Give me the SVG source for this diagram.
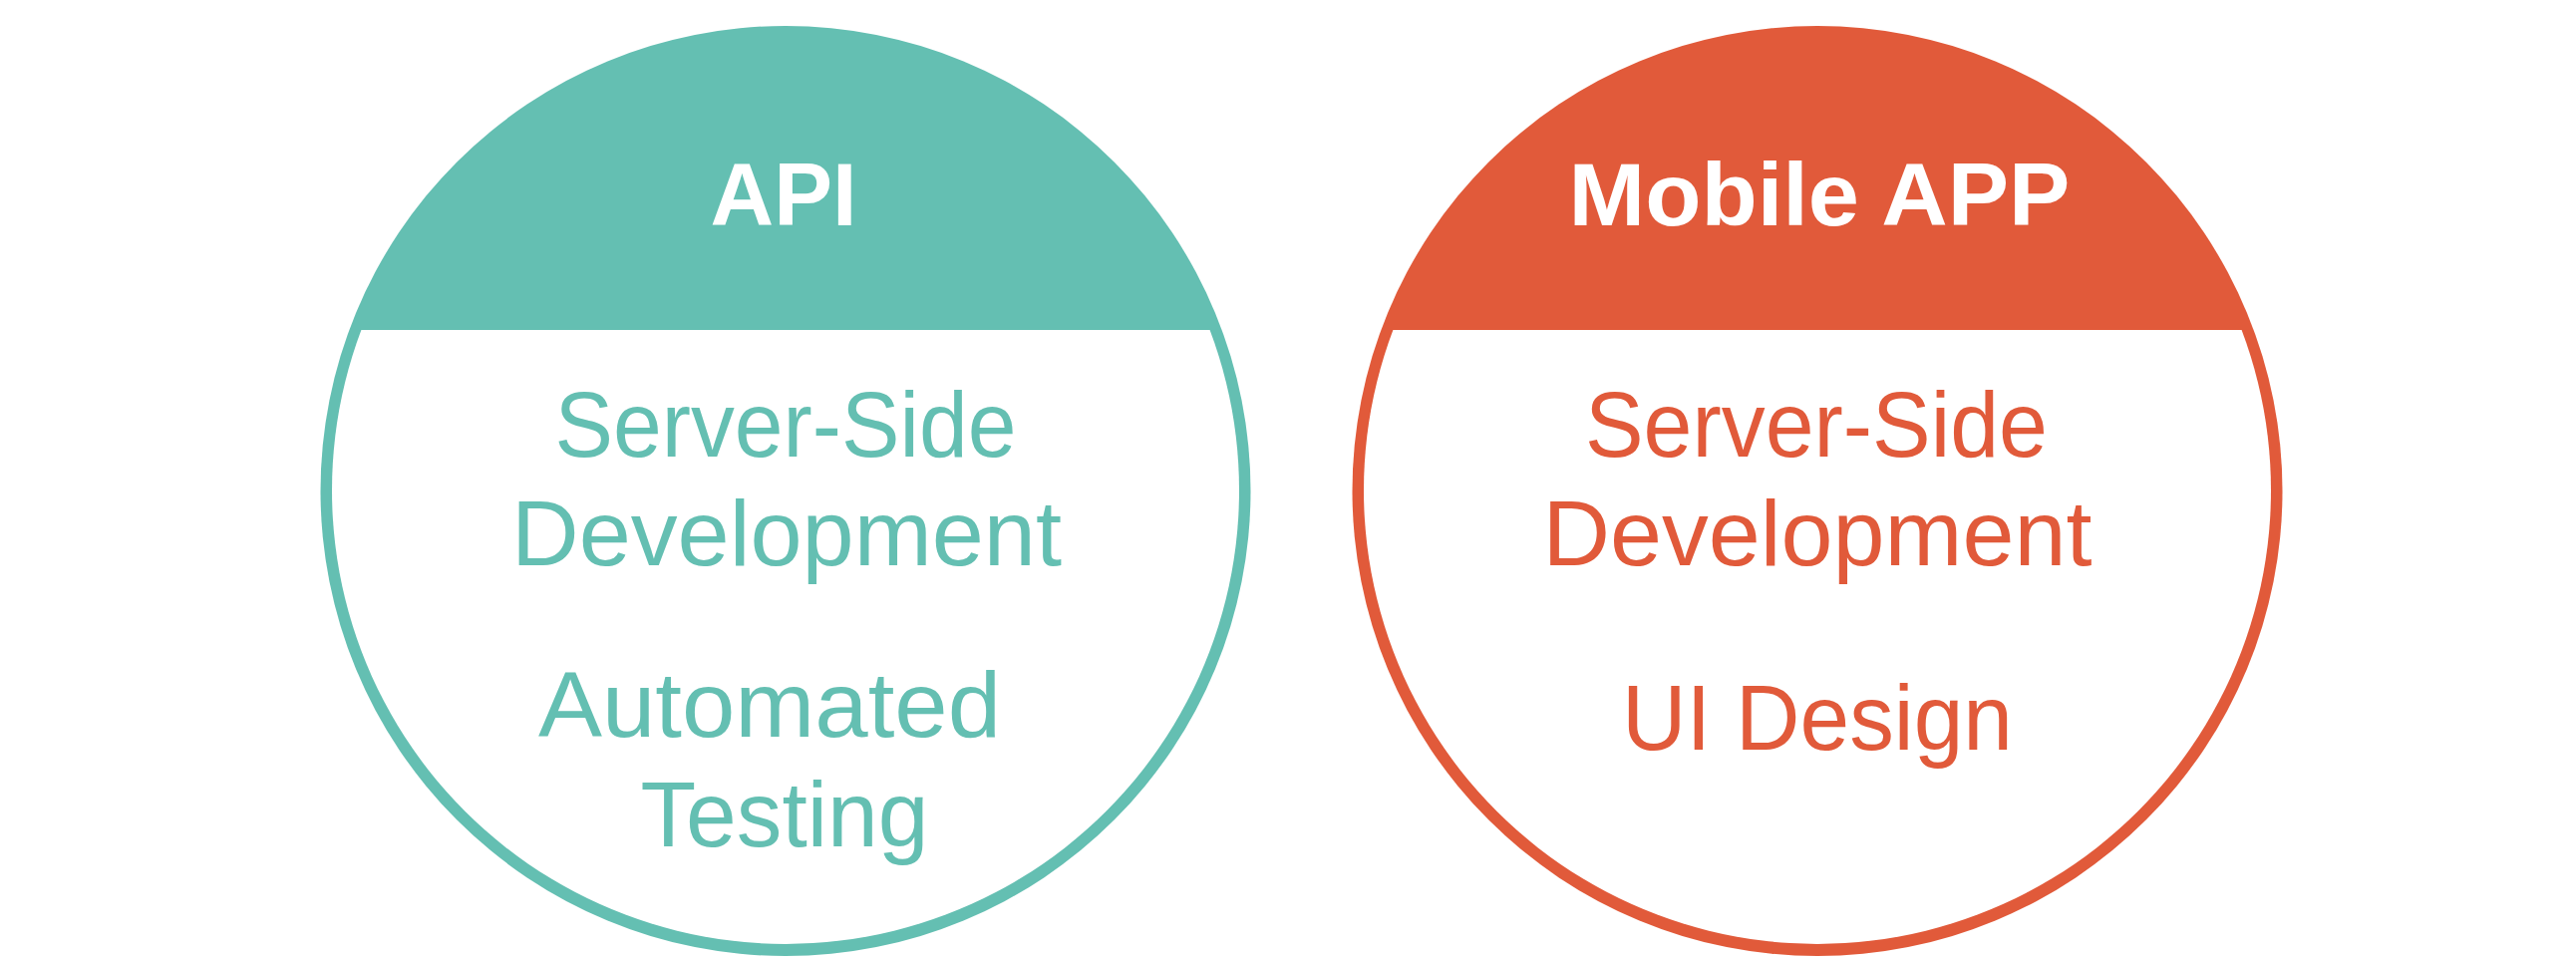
<svg xmlns="http://www.w3.org/2000/svg" width="2584" height="964" viewBox="0 0 2584 964">
<style>
.title{font-family:"Liberation Sans",Arial,sans-serif;font-weight:bold;font-size:89px;fill:#ffffff;text-anchor:middle}
.body{font-family:"Liberation Sans",Arial,sans-serif;font-size:92px;text-anchor:middle;font-variant-ligatures:none}
.teal{fill:#64BFB2}
.orange{fill:#E15A3A}
.inner{fill:#ffffff}
</style>
<rect width="2584" height="964" fill="#ffffff"/>
<g id="api">
<circle class="teal" cx="788" cy="492.5" r="466.5"/>
<path class="inner" d="M 362.4 331 A 455 455 0 1 0 1213.6 331 Z"/>
<text class="title" x="786" y="226" textLength="147" lengthAdjust="spacingAndGlyphs">API</text>
<text class="body teal" x="788" y="458" textLength="463" lengthAdjust="spacingAndGlyphs">Server-Side</text>
<text class="body teal" x="789" y="567" textLength="552" lengthAdjust="spacingAndGlyphs">Development</text>
<text class="body teal" x="772" y="739" textLength="464" lengthAdjust="spacingAndGlyphs">Automated</text>
<text class="body teal" x="787" y="849" textLength="289" lengthAdjust="spacingAndGlyphs">Testing</text>
</g>
<g id="mobile-app">
<circle class="orange" cx="1823" cy="492.5" r="466.5"/>
<path class="inner" d="M 1397.4 331 A 455 455 0 1 0 2248.6 331 Z"/>
<text class="title" x="1825" y="226" textLength="503" lengthAdjust="spacingAndGlyphs">Mobile APP</text>
<text class="body orange" x="1822" y="458" textLength="464" lengthAdjust="spacingAndGlyphs">Server-Side</text>
<text class="body orange" x="1823" y="567" textLength="551" lengthAdjust="spacingAndGlyphs">Development</text>
<text class="body orange" x="1823" y="752" textLength="392" lengthAdjust="spacingAndGlyphs">UI Design</text>
</g>
<g id="connectors"/>
</svg>
